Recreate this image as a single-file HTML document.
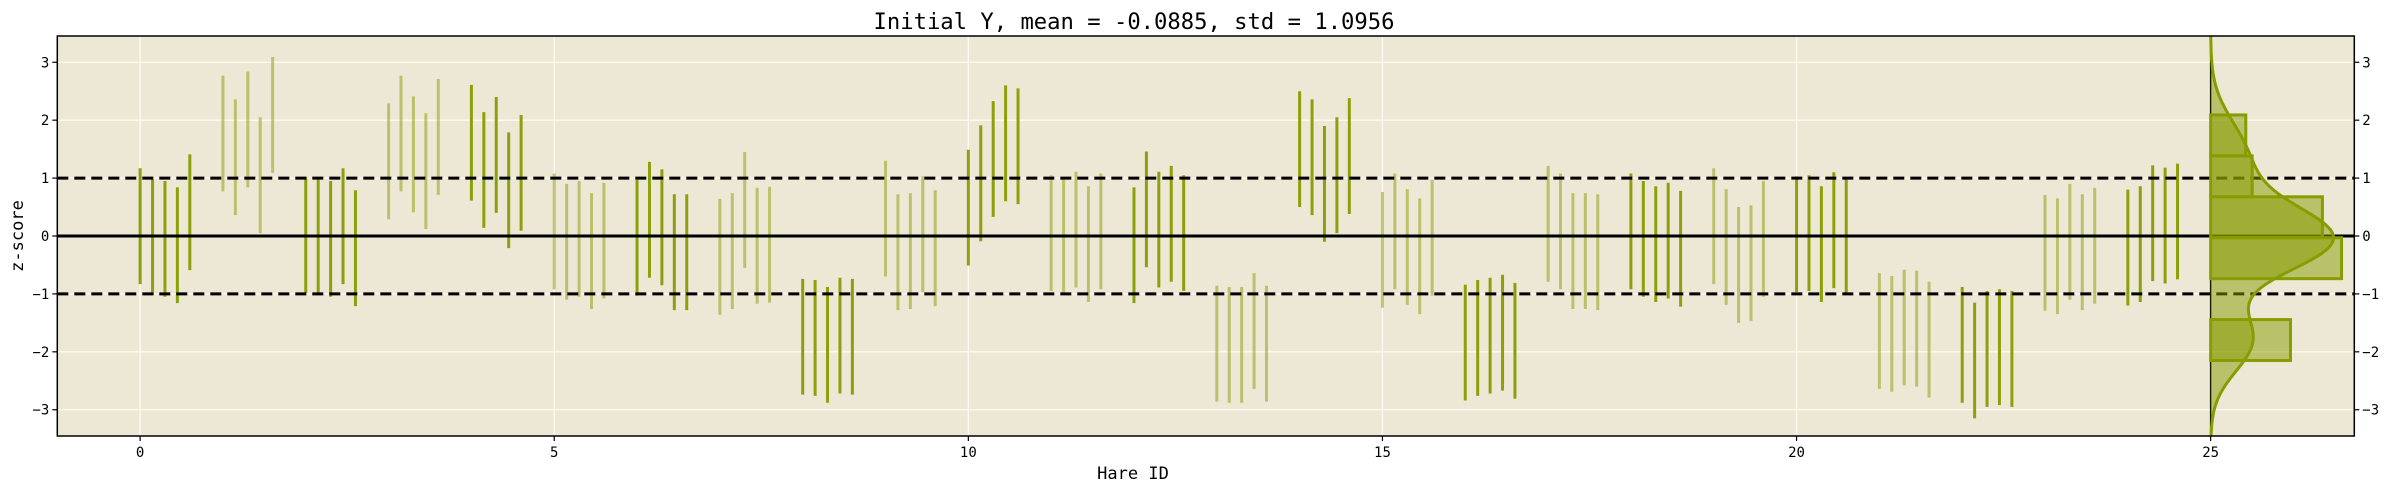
<!DOCTYPE html>
<html><head><meta charset="utf-8">
<style>
html,body{margin:0;padding:0;background:#fff;}
svg{display:block;font-family:"DejaVu Sans Mono","Liberation Mono",monospace;}
</style></head>
<body>
<svg id="chart" width="2389" height="490" viewBox="0 0 2389 490" xmlns="http://www.w3.org/2000/svg">
<rect x="57.3" y="36" width="2297" height="400" fill="#ede7d6"/>
<g id="grid"></g>
<g id="marks"></g>
<g id="ref"></g>
<g id="hist"></g>
<g id="axes"></g>
<text x="1134" y="29" font-size="22.2" text-anchor="middle">Initial Y, mean = -0.0885, std = 1.0956</text>
<text x="1133" y="479" font-size="17" text-anchor="middle">Hare ID</text>
<text x="0" y="0" font-size="17" text-anchor="middle" transform="translate(23,236) rotate(-90)">z-score</text>
</svg>
<script>
const groupIds = [0,1,2,3,4,5,6,7,8,9,10,11,12,13,14,15,16,17,18,19,20,21,22,23,24];
const centers = [
[0.17,-0.02,-0.05,-0.16,0.41],
[1.77,1.36,1.84,1.05,2.09],
[0.02,-0.02,-0.05,0.17,-0.21],
[1.29,1.77,1.41,1.12,1.71],
[1.61,1.14,1.40,0.79,1.09],
[0.08,-0.10,-0.05,-0.26,-0.08],
[-0.03,0.28,0.15,-0.28,-0.28],
[-0.36,-0.26,0.45,-0.17,-0.15],
[-1.74,-1.76,-1.88,-1.72,-1.74],
[0.30,-0.28,-0.26,0.03,-0.21],
[0.49,0.91,1.33,1.60,1.55],
[0.05,-0.02,0.11,-0.14,0.08],
[-0.16,0.46,0.11,0.21,0.05],
[-1.86,-1.88,-1.88,-1.64,-1.86],
[1.50,1.36,0.90,1.05,1.38],
[-0.24,0.08,-0.19,-0.35,-0.03],
[-1.84,-1.76,-1.72,-1.67,-1.81],
[0.21,0.08,-0.26,-0.26,-0.28],
[0.08,-0.05,-0.14,-0.08,-0.22],
[0.17,-0.19,-0.50,-0.47,-0.05],
[0.03,0.05,-0.14,0.10,-0.02],
[-1.64,-1.69,-1.58,-1.60,-1.79],
[-1.88,-2.15,-1.95,-1.92,-1.95],
[-0.29,-0.35,-0.10,-0.28,-0.17],
[-0.20,-0.14,0.22,0.18,0.25]];
const halfWidth = 1.0;
const xTicks = [0,5,10,15,20,25];
const yTicks = [-3,-2,-1,0,1,2,3];
const refLevels = [-1,1];
const numBins = 6;

const X0=57.3, X1=2354.3, Y0=36, Y1=436;
const xMin=-1.0, xMax=26.7343, yMin=-3.4535, yMax=3.4535;
function xs(v){return X0+(v-xMin)/(xMax-xMin)*(X1-X0);}
function ys(v){return Y1-(v-yMin)/(yMax-yMin)*(Y1-Y0);}
const NS="http://www.w3.org/2000/svg";
function mk(parent,tag,attrs){const e=document.createElementNS(NS,tag);for(const k in attrs)e.setAttribute(k,attrs[k]);parent.appendChild(e);return e;}
const OLIVE="#879c00";

const grid=document.getElementById('grid');
xTicks.forEach(t=>{const l=mk(grid,'line',{x1:xs(t),x2:xs(t),y1:Y0,y2:Y1,stroke:'#fffaf0','stroke-width':1.3});

});
yTicks.forEach(t=>{const l=mk(grid,'line',{x1:X0,x2:X1,y1:ys(t),y2:ys(t),stroke:'#fffaf0','stroke-width':1.3});

});

const marks=document.getElementById('marks');
const allVals=[];
groupIds.forEach((g,gi)=>{
  const dark = gi%2===0;
  centers[gi].forEach((c,j)=>{
    allVals.push(c);
    const x=xs(g+0.15*j);
    const l=mk(marks,'line',{x1:x,x2:x,y1:ys(c+halfWidth),y2:ys(c-halfWidth),stroke:OLIVE,'stroke-width':3,'stroke-opacity':dark?0.95:0.5});
    
    
  });
});

const hist=document.getElementById('hist');
const base=xs(25);
const n=allVals.length;
const vmin=Math.min(...allVals), vmax=Math.max(...allVals);
const bw=(vmax-vmin)/numBins;
const counts=new Array(numBins).fill(0);
allVals.forEach(v=>{let b=Math.floor((v-vmin)/bw);if(b>=numBins)b=numBins-1;counts[b]++;});
const PXD=282;
const mean=allVals.reduce((a,b)=>a+b,0)/n;
const sd=Math.sqrt(allVals.reduce((a,b)=>a+(b-mean)**2,0)/(n-1));
const h=1.35*sd*Math.pow(n,-0.2);
function kde(y){let s=0;allVals.forEach(v=>{const z=(y-v)/h;s+=Math.exp(-0.5*z*z);});return s/(n*h*Math.sqrt(2*Math.PI));}
let pts=[];
for(let y=yMin;y<=yMax+1e-9;y+=0.02){pts.push([base+kde(y)*PXD,ys(y)]);}
const d='M'+pts.map(p=>p[0].toFixed(1)+','+p[1].toFixed(1)).join(' L');
const fillP=mk(hist,'path',{d:'M'+base+','+ys(yMin)+' L'+pts.map(p=>p[0].toFixed(1)+','+p[1].toFixed(1)).join(' L')+' L'+base+','+ys(yMax)+' Z',fill:OLIVE,'fill-opacity':0.5,stroke:'none'});


counts.forEach((c,i)=>{
  if(c===0)return;
  const dens=c/(n*bw);
  const r=mk(hist,'rect',{x:base,y:ys(vmin+(i+1)*bw),width:dens*PXD,height:ys(vmin+i*bw)-ys(vmin+(i+1)*bw),fill:OLIVE,'fill-opacity':0.5,stroke:OLIVE,'stroke-width':3});
  
  
});
const kl=mk(hist,'path',{d:d,fill:'none',stroke:OLIVE,'stroke-width':3});



const ref=document.getElementById('ref');
refLevels.forEach(v=>{const l=mk(ref,'line',{x1:X0,x2:X1,y1:ys(v),y2:ys(v),stroke:'#000','stroke-width':3,'stroke-dasharray':'11,6'});

});
const z=mk(ref,'line',{x1:X0,x2:X1,y1:ys(0),y2:ys(0),stroke:'#000','stroke-width':3});


const vl=mk(ref,'line',{x1:base,x2:base,y1:Y0,y2:Y1,stroke:'#000','stroke-width':1.5});



const axes=document.getElementById('axes');
const fr=mk(axes,'rect',{x:X0,y:Y0,width:X1-X0,height:Y1-Y0,fill:'none',stroke:'#000','stroke-width':1.5});


xTicks.forEach(t=>{
  const tk=mk(axes,'line',{x1:xs(t),x2:xs(t),y1:Y1,y2:Y1+5,stroke:'#000','stroke-width':1.2});
  
  
  const tx=mk(axes,'text',{x:xs(t),y:Y1+21,'font-size':14,'text-anchor':'middle'});
  tx.textContent=String(t);
  
  
});
yTicks.forEach(t=>{
  const lab=(t<0?'\u2212':'')+Math.abs(t);
  const a=mk(axes,'line',{x1:X0-5,x2:X0,y1:ys(t),y2:ys(t),stroke:'#000','stroke-width':1.2});
  
  
  const b=mk(axes,'text',{x:X0-8,y:ys(t)+5,'font-size':14,'text-anchor':'end'});
  b.textContent=lab;
  
  
  const c=mk(axes,'line',{x1:X1,x2:X1+5,y1:ys(t),y2:ys(t),stroke:'#000','stroke-width':1.2});
  
  
  const e=mk(axes,'text',{x:X1+8,y:ys(t)+5,'font-size':14,'text-anchor':'start'});
  e.textContent=lab;
  
  
});
</script>
</body></html>
